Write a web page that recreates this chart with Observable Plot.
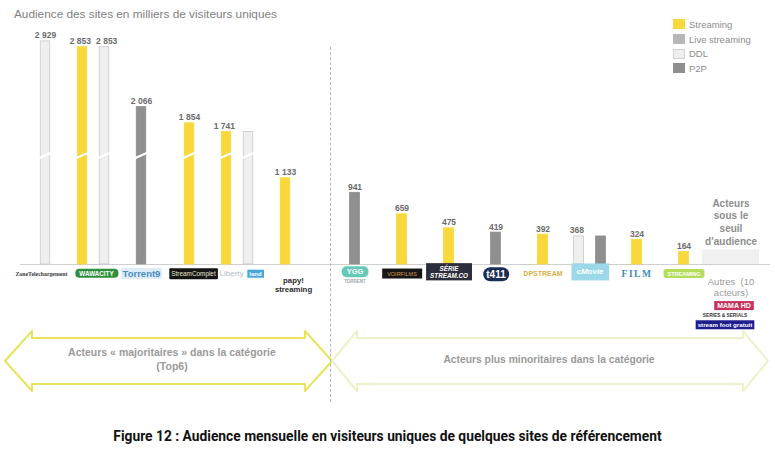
<!DOCTYPE html>
<html><head><meta charset="utf-8">
<script src="https://cdn.jsdelivr.net/npm/d3@7"></script>
<script src="https://cdn.jsdelivr.net/npm/@observablehq/plot@0.6"></script>
<style>
body{margin:0;background:#fff;font-family:"Liberation Sans",Arial,sans-serif;}
#wrap{position:relative;width:775px;height:450px;overflow:hidden;background:#fff;}
#title{position:absolute;left:14px;top:7px;font-size:11.8px;color:#808080;white-space:nowrap;}
#legend{position:absolute;left:673px;top:17px;font-size:9.5px;color:#8c8c8c;}
#legend .row{height:14.7px;display:flex;align-items:center;}
#legend .sw{width:12px;height:10px;margin-right:4px;box-sizing:border-box;}
#left,#right{position:absolute;top:0;}
#left{left:0;} #right{left:330px;}
#sep{position:absolute;left:330px;top:47px;height:355px;border-left:1px dashed #b5b5b5;}
#arrows{position:absolute;left:0;top:0;}
#caption{position:absolute;left:0;width:775px;top:428px;text-align:center;font-family:Roboto,"Liberation Sans",sans-serif;font-weight:bold;font-size:13.8px;color:#111;white-space:nowrap;}
</style></head><body>
<div id="wrap">
  <div id="title"></div>
  <svg id="arrows" width="775" height="450"></svg>
  <div id="left"></div>
  <div id="right"></div>
  <div id="sep"></div>
  <div id="legend"></div>
  <div id="caption"></div>
</div>
<script>
// ---------------- DATA ----------------
const titleText = "Audience des sites en milliers de visiteurs uniques";
const captionText = "Figure 12 : Audience mensuelle en visiteurs uniques de quelques sites de référencement";

const types = ["Streaming", "Live streaming", "DDL", "P2P"];

const sitesLeft = ["Zone Téléchargement", "Wawacity", "Torrent9", "StreamComplet", "Libertyland", "Papystreaming"];
const logosLeft = ["ZoneTelechargement", "WAWACITY", "Torrent9", "StreamComplet", "Liberty", "papy!\nstreaming"];

const sitesRight = ["YggTorrent", "Voirfilms", "Série Stream", "t411", "DPStream", "cMovie", "Film", "Streaming VF", "Autres"];
const logosRight = ["YGG", "VOIRFILMS", "SÉRIE\nSTREAM.CO", "t411", "DPSTREAM", "cMovie", "FILM", "STREAMING", "Autres  (10\nacteurs)"];

const barSite  = ["Zone Téléchargement", "Wawacity", "Wawacity", "Torrent9", "StreamComplet", "Libertyland", "Libertyland", "Papystreaming",
                  "YggTorrent", "Voirfilms", "Série Stream", "t411", "DPStream", "cMovie", "cMovie", "Film", "Streaming VF"];
const barType  = ["DDL", "Streaming", "DDL", "P2P", "Streaming", "Streaming", "DDL", "Streaming",
                  "P2P", "Streaming", "Streaming", "P2P", "Streaming", "DDL", "P2P", "Streaming", "Streaming"];
const barValue = [2929, 2853, 2853, 2066, 1854, 1741, 1741, 1133,
                  941, 659, 475, 419, 392, 368, 368, 324, 164];
const barLabel = ["2 929", "2 853", "2 853", "2 066", "1 854", "1 741", "", "1 133",
                  "941", "659", "475", "419", "392", "368", "", "324", "164"];

const otherSite = "Autres";
const otherValue = 190;   // seuil d'audience
const otherText = "Acteurs\nsous le\nseuil\nd’audience";

// secondary logo texts (site, text)
const extraSite = ["Libertyland", "YggTorrent", "Autres", "Autres", "Autres"];
const extraText = ["land", "TORRENT", "MAMA HD", "SERIES & SERIALS", "stream foot gratuit"];

const breakValue = 1430;  // axis break drawn on the tall bars
const leftArrowText = "Acteurs « majoritaires » dans la catégorie\n(Top6)";
const rightArrowText = "Acteurs plus minoritaires dans la catégorie";

// ---------------- STYLES ----------------
const typeColor = {"Streaming": "#f8d83c", "Live streaming": "#b7b7b7", "DDL": "#efefef", "P2P": "#8f8f8f"};
const typeStroke = {"Streaming": "#f8d83c", "Live streaming": "#b7b7b7", "DDL": "#c9c9c9", "P2P": "#8f8f8f"};

const logoStyle = {
  "Zone Téléchargement": {fill: "#3a3a3a", size: 5.8, weight: "bold", family: "Liberation Serif, serif", dx: -4},
  "Wawacity": {fill: "#ffffff", bg: "#2f8f3c", size: 6.3, weight: "bold", rx: 4, px: 4, py: 1, dx: 3},
  "Torrent9": {fill: "#4d8cc2", bg: "#dcedf8", size: 9.5, weight: "bold", rx: 1, px: 1.5, py: 0, family: "Liberation Sans Narrow, Liberation Sans, sans-serif"},
  "StreamComplet": {fill: "#e6e6cc", bg: "#141414", size: 6.4, rx: 1, px: 2, py: 1.5, dx: 4},
  "Libertyland": {fill: "#b3bcc6", size: 8, dx: -6},
  "Papystreaming": {fill: "#2a2a2a", size: 7.8, weight: "bold", multi: true, dy: 12, dx: 8},
  "YggTorrent": {fill: "#ffffff", bg: "#63c9b9", size: 7.5, weight: "bold", rx: 5, px: 5, py: 1, dy: 7},
  "Voirfilms": {fill: "#d39a46", bg: "#171717", size: 5.5, px: 5, py: 2},
  "Série Stream": {fill: "#ffffff", bg: "#2c2e3b", size: 6.3, weight: "bold", style: "italic", multi: true, dy: 1.5, px: 4, py: 1},
  "t411": {fill: "#ffffff", bg: "#1c2e56", size: 10, weight: "bold", rx: 7, px: 3, py: 1.5, dy: 9.5},
  "DPStream": {fill: "#d6b048", size: 7, weight: "bold"},
  "cMovie": {fill: "#ffffff", bg: "#9ad8ea", size: 8, weight: "bold", style: "italic", px: 5, py: 4, dy: 7},
  "Film": {fill: "#3c8dbb", size: 9.5, weight: "bold", family: "Liberation Serif, serif", spacing: 1.5},
  "Streaming VF": {fill: "#ffffff", bg: "#b5dd5c", size: 5.5, weight: "bold", rx: 3, px: 4, py: 1.5},
  "Autres": {fill: "#9a9a9a", size: 9.5, multi: true, dy: 13}
};
const extraStyle = [
  {fill: "#ffffff", bg: "#46a6dc", size: 6, weight: "bold", dy: 9, dx: 18, px: 2, py: 1},
  {fill: "#9aa8b0", size: 4.5, weight: "bold", dy: 17, dx: 0},
  {fill: "#ffffff", bg: "#c8325a", size: 7, weight: "bold", dy: 41, dx: 3, px: 3, py: 1},
  {fill: "#333333", size: 4.8, weight: "bold", dy: 50.5, dx: -6},
  {fill: "#ffffff", bg: "#1d1d8e", size: 6.2, weight: "bold", dy: 60.5, dx: -6, px: 2, py: 1}
];

// ---------------- BUILD ----------------
d3.select("#title").text(titleText);
d3.select("#caption").text(captionText);

const legend = d3.select("#legend");
types.forEach(t => {
  const r = legend.append("div").attr("class", "row");
  r.append("div").attr("class", "sw").style("background", typeColor[t])
    .style("border", t === "DDL" ? "1px solid #d0d0d0" : "none");
  r.append("span").text(t);
});

const bars = barSite.map((s, i) => ({site: s, type: barType[i], value: barValue[i], label: barLabel[i]}));
const counts = d3.rollup(bars, v => v.length, d => d.site);
const seen = new Map();
bars.forEach(d => {
  const k = seen.get(d.site) || 0; seen.set(d.site, k + 1);
  d.off = (k - (counts.get(d.site) - 1) / 2) * 22;
});
const extras = extraSite.map((s, i) => ({site: s, text: extraText[i], st: extraStyle[i]}));

const H = 330, MT = 35.5, MB = 66, BARW = 10;

function makeChart(sites, logos, data, o) {
  const bw = (o.width - o.ml - o.mr) / sites.length;
  const marks = [Plot.ruleY([0], {stroke: "#cfcfcf", insetRight: o.ruleR, insetLeft: o.ruleL || 0})];
  const styleMap = {};
  if (o.other) {
    marks.push(Plot.barY([{site: otherSite, value: otherValue}], {x: "site", y: "value", fill: "#f0f0f0", insetLeft: -5, insetRight: -5}));
    marks.push(Plot.text([{site: otherSite, value: otherValue}], {x: "site", y: "value", text: () => otherText, lineAnchor: "bottom", dy: -5, lineHeight: 1.28, fontSize: 10, fontWeight: "bold", fill: "#8d8d8d"}));
  }
  for (const [off, ds] of d3.groups(data, d => d.off)) {
    const il = bw / 2 + off - BARW / 2, ir = bw / 2 - off - BARW / 2;
    marks.push(Plot.barY(ds, {x: "site", y: "value", fill: d => typeColor[d.type], stroke: d => typeStroke[d.type], strokeWidth: 0.8, insetLeft: il, insetRight: ir}));
    marks.push(Plot.tickY(ds.filter(d => d.value > breakValue + 200), {x: "site", y: () => breakValue, stroke: "#ffffff", strokeWidth: 2.2, insetLeft: il - 2, insetRight: ir - 2, ariaLabel: () => "break"}));
    marks.push(Plot.text(ds.filter(d => d.label), {x: "site", y: "value", text: "label", dx: off * 1.2, dy: -3, lineAnchor: "bottom", fontWeight: "bold", fontSize: 8.5, fill: "#6b6b6b"}));
  }
  const addLogo = (site, text, st, key) => {
    styleMap[key] = st;
    marks.push(Plot.text([site], {x: d => d, y: () => 0, text: () => text,
      dy: st.dy ?? 9, dx: st.dx || 0, lineAnchor: st.multi ? "top" : "middle", lineHeight: 1.15,
      fill: st.fill, fontSize: st.size, fontWeight: st.weight || "normal", fontStyle: st.style || "normal",
      fontFamily: st.family || "Liberation Sans, Arial, sans-serif", ariaLabel: () => key}));
  };
  sites.forEach((s, i) => addLogo(s, logos[i], logoStyle[s] || {}, "logo" + i));
  extras.filter(e => sites.includes(e.site)).forEach((e, i) => addLogo(e.site, e.text, e.st, "extra" + i));

  const svg = Plot.plot({
    width: o.width, height: H, marginTop: MT, marginBottom: MB, marginLeft: o.ml, marginRight: o.mr,
    style: {background: "transparent", overflow: "visible", fontFamily: "Liberation Sans, Arial, sans-serif"},
    x: {type: "band", domain: sites, padding: 0, axis: null},
    y: {domain: [0, 3000], axis: null},
    marks
  });
  document.querySelector(o.target).appendChild(svg);
  // slanted break marks
  svg.querySelectorAll('line[aria-label="break"]').forEach(l => {
    const y1 = +l.getAttribute("y1"), y2 = +l.getAttribute("y2");
    l.setAttribute("y1", y1 + 3); l.setAttribute("y2", y2 - 3);
  });
  // logo backgrounds
  Object.entries(styleMap).forEach(([key, st]) => {
    svg.querySelectorAll(`text[aria-label="${key}"]`).forEach(t => {
      if (st.spacing) t.setAttribute("letter-spacing", st.spacing);
      if (st.bg) {
        const b = t.getBBox();
        const px = st.px ?? 2, py = st.py ?? 1;
        const r = document.createElementNS("http://www.w3.org/2000/svg", "rect");
        r.setAttribute("x", b.x - px); r.setAttribute("y", b.y - py);
        r.setAttribute("width", b.width + 2 * px); r.setAttribute("height", b.height + 2 * py);
        r.setAttribute("rx", st.rx || 0);
        r.setAttribute("fill", st.bg);
        const tr = t.getAttribute("transform");
        if (tr) r.setAttribute("transform", tr);
        t.parentNode.insertBefore(r, t);
      }
    });
  });
  return svg;
}

makeChart(sitesLeft, logosLeft, bars.filter(d => sitesLeft.includes(d.site)), {target: "#left", width: 330, ml: 19.75, mr: 19.25, ruleR: -19.25});
makeChart(sitesRight, logosRight, bars.filter(d => sitesRight.includes(d.site)), {target: "#right", width: 445, ml: 0, mr: 21, ruleR: -16, other: true});

// ---------------- ARROWS (annotation) ----------------
const arr = d3.select("#arrows");
function arrowPath(x0, x1, yc, hw, sh, hh) {
  return `M${x0},${yc} L${x0 + hw},${yc - hh} L${x0 + hw},${yc - sh} L${x1 - hw},${yc - sh} L${x1 - hw},${yc - hh} L${x1},${yc} L${x1 - hw},${yc + hh} L${x1 - hw},${yc + sh} L${x0 + hw},${yc + sh} L${x0 + hw},${yc + hh} Z`;
}
arr.append("path").attr("d", arrowPath(5, 332, 361, 27, 23, 30)).attr("fill", "#fff").attr("stroke", "#e9e35c").attr("stroke-width", 2).attr("stroke-linejoin", "round");
arr.append("path").attr("d", arrowPath(332, 768, 361, 25, 23, 30)).attr("fill", "#fff").attr("stroke", "#eef0c9").attr("stroke-width", 2).attr("stroke-linejoin", "round");
const lt = arr.append("text").attr("x", 172).attr("y", 356).attr("text-anchor", "middle")
  .attr("font-size", 10.5).attr("font-weight", "bold").attr("fill", "#9a9a9a").attr("font-family", "Liberation Sans, Arial, sans-serif");
leftArrowText.split("\n").forEach((s, i) => lt.append("tspan").attr("x", 172).attr("dy", i ? 13.5 : 0).text(s));
arr.append("text").attr("x", 549).attr("y", 363).attr("text-anchor", "middle")
  .attr("font-size", 10.3).attr("font-weight", "bold").attr("fill", "#9a9a9a").attr("font-family", "Liberation Sans, Arial, sans-serif").text(rightArrowText);
</script>
</body></html>
